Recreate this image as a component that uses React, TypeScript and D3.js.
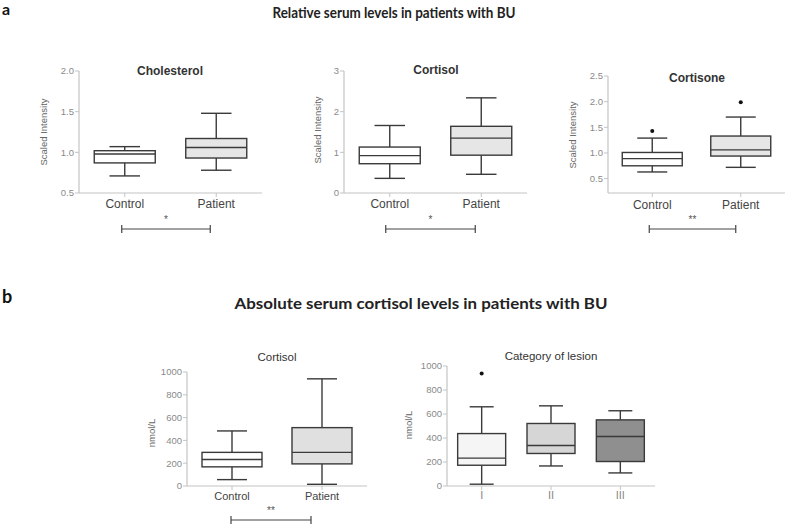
import React from "react";
import * as d3 from "d3";

// ---------- data ----------
const groupsAB = ["Control", "Patient"];
const lesionCategories = ["I", "II", "III"];

// [whiskerLow, Q1, median, Q3, whiskerHigh]
const cholesterolStats = [
  [0.71, 0.87, 0.98, 1.02, 1.07],
  [0.78, 0.93, 1.06, 1.17, 1.48],
];
const cortisolRelStats = [
  [0.36, 0.72, 0.92, 1.13, 1.66],
  [0.46, 0.93, 1.35, 1.64, 2.34],
];
const cortisoneStats = [
  [0.63, 0.75, 0.89, 1.01, 1.29],
  [0.72, 0.94, 1.06, 1.33, 1.7],
];
const cortisoneOutliers = [[1.43], [1.99]];
const cortisolAbsStats = [
  [56, 168, 233, 295, 483],
  [15, 194, 295, 512, 940],
];
const lesionStats = [
  [15, 173, 232, 437, 660],
  [167, 271, 337, 521, 668],
  [109, 204, 413, 551, 627],
];
const lesionOutliers = [[937], [], []];

const cholesterolTicks = [0.5, 1.0, 1.5, 2.0];
const cortisolRelTicks = [0, 1, 2, 3];
const cortisoneTicks = [0.5, 1.0, 1.5, 2.0, 2.5];
const nmolTicks = [0, 200, 400, 600, 800, 1000];

const fillsAB = ["#ffffff", "#e6e6e6"];
const fillsLesion = ["#f5f5f5", "#d6d6d6", "#8f8f8f"];

const FONT = "Arial, 'Liberation Sans', Helvetica, sans-serif";
const TITLE_FONT = "Lato, 'Open Sans', sans-serif";

type Layout = {
  x0: number; x1: number; yTop: number; yBottom: number; boxW: number;
  titleX: number; titleY: number; titleSize: number; yLabelX: number; yLabelY: number;
  catY: number; catSize: number; catColor: string;
};

function BoxPanel(props: {
  title: string; titleBold: boolean; categories: string[]; stats: number[][];
  outliers?: number[][]; fills: string[]; yDomain: [number, number];
  ticks: number[]; fmt: (v: number) => string; yLabel: string; layout: Layout;
  sig?: { text: string; y: number; dl: number; dr: number; textY: number };
}) {
  const { title, titleBold, categories, stats, outliers, fills, yDomain, ticks, fmt, yLabel, layout: L, sig } = props;
  const y = d3.scaleLinear().domain(yDomain).range([L.yBottom, L.yTop]);
  const x = d3.scalePoint<string>().domain(categories).range([L.x0, L.x1]).padding(0.5);
  const topTick = y(d3.max(ticks) as number);
  const axisColor = "#c4c4c4";
  const stroke = "#3a3a3a";
  return (
    <g>
      <text x={L.titleX} y={L.titleY} textAnchor="middle" fontFamily={FONT} fontSize={L.titleSize}
        fontWeight={titleBold ? "bold" : "normal"} fill="#333">{title}</text>
      <text transform={`translate(${L.yLabelX},${L.yLabelY}) rotate(-90)`} textAnchor="middle"
        fontFamily={FONT} fontSize={9.5} fill="#666">{yLabel}</text>
      {/* axes */}
      <line x1={L.x0} x2={L.x0} y1={topTick} y2={L.yBottom} stroke={axisColor} strokeWidth={1.2} />
      <line x1={L.x0} x2={L.x1} y1={L.yBottom} y2={L.yBottom} stroke={axisColor} strokeWidth={1.2} />
      {ticks.map((t) => (
        <g key={t}>
          <line x1={L.x0 - 4} x2={L.x0} y1={y(t)} y2={y(t)} stroke={axisColor} strokeWidth={1} />
          <text x={L.x0 - 5} y={y(t)} dy="0.35em" textAnchor="end" fontFamily={FONT} fontSize={9.5} fill="#8a8a8a">{fmt(t)}</text>
        </g>
      ))}
      {categories.map((c) => (
        <g key={c}>
          <line x1={x(c)} x2={x(c)} y1={L.yBottom} y2={L.yBottom + 4} stroke={axisColor} strokeWidth={1} />
          <text x={x(c)} y={L.catY} textAnchor="middle" fontFamily={FONT} fontSize={L.catSize} fill={L.catColor}>{c}</text>
        </g>
      ))}
      {/* boxes */}
      {categories.map((c, i) => {
        const [lo, q1, med, q3, hi] = stats[i];
        const cx = x(c) as number;
        const w = L.boxW;
        const cap = w / 2;
        return (
          <g key={c} stroke={stroke} strokeWidth={1.4}>
            <line x1={cx} x2={cx} y1={y(hi)} y2={y(q3)} />
            <line x1={cx} x2={cx} y1={y(q1)} y2={y(lo)} />
            <line x1={cx - cap / 2} x2={cx + cap / 2} y1={y(hi)} y2={y(hi)} />
            <line x1={cx - cap / 2} x2={cx + cap / 2} y1={y(lo)} y2={y(lo)} />
            <rect x={cx - w / 2} y={y(q3)} width={w} height={y(q1) - y(q3)} fill={fills[i]} />
            <line x1={cx - w / 2} x2={cx + w / 2} y1={y(med)} y2={y(med)} />
            {(outliers?.[i] ?? []).map((o, k) => (
              <circle key={k} cx={cx} cy={y(o)} r={2} fill="#111" stroke="none" />
            ))}
          </g>
        );
      })}
      {sig && (() => {
        const xa = (x(categories[0]) as number) + sig.dl;
        const xb = (x(categories[1]) as number) + sig.dr;
        return (
          <g stroke="#444" strokeWidth={1.2}>
            <line x1={xa} x2={xb} y1={sig.y} y2={sig.y} />
            <line x1={xa} x2={xa} y1={sig.y - 4} y2={sig.y + 4} />
            <line x1={xb} x2={xb} y1={sig.y - 4} y2={sig.y + 4} />
            <text x={(xa + xb) / 2} y={sig.textY} textAnchor="middle" fontFamily={FONT} fontSize={10} fill="#555" stroke="none">{sig.text}</text>
          </g>
        );
      })()}
    </g>
  );
}

const f1 = d3.format(".1f");
const f0 = d3.format("d");

export default function App() {
  return (
    <svg width={787} height={525} style={{ position: "absolute", left: 0, top: 0, background: "#fff" }}>
      <text x={2} y={15} fontFamily={TITLE_FONT} fontSize={16} fontWeight="bold" fill="#111">a</text>
      <text x={394} y={18} textAnchor="middle" fontFamily={TITLE_FONT} fontSize={15} fontWeight="bold" fill="#222"
        textLength={243} lengthAdjust="spacingAndGlyphs">Relative serum levels in patients with BU</text>

      <BoxPanel title="Cholesterol" titleBold categories={groupsAB} stats={cholesterolStats} fills={fillsAB}
        yDomain={[0.5, 2.0]} ticks={cholesterolTicks} fmt={f1} yLabel="Scaled Intensity"
        layout={{ x0: 79, x1: 262, yTop: 71, yBottom: 193, boxW: 61, titleX: 170, titleY: 75, titleSize: 12, yLabelX: 47, yLabelY: 132, catY: 208, catSize: 12, catColor: "#444" }}
        sig={{ text: "*", y: 229, dl: -3, dr: -6, textY: 223 }} />

      <BoxPanel title="Cortisol" titleBold categories={groupsAB} stats={cortisolRelStats} fills={fillsAB}
        yDomain={[0, 3]} ticks={cortisolRelTicks} fmt={f0} yLabel="Scaled Intensity"
        layout={{ x0: 344, x1: 527, yTop: 71, yBottom: 193, boxW: 61, titleX: 436, titleY: 74, titleSize: 12, yLabelX: 321, yLabelY: 130, catY: 208, catSize: 12, catColor: "#444" }}
        sig={{ text: "*", y: 229, dl: -4, dr: -6, textY: 223 }} />

      <BoxPanel title="Cortisone" titleBold categories={groupsAB} stats={cortisoneStats} outliers={cortisoneOutliers} fills={fillsAB}
        yDomain={[0.22, 2.5]} ticks={cortisoneTicks} fmt={f1} yLabel="Scaled Intensity"
        layout={{ x0: 608, x1: 785, yTop: 76, yBottom: 193, boxW: 60, titleX: 697, titleY: 82, titleSize: 12, yLabelX: 576, yLabelY: 135, catY: 209, catSize: 12, catColor: "#444" }}
        sig={{ text: "**", y: 229, dl: -3, dr: -5, textY: 223 }} />

      <text x={2} y={303} fontFamily={TITLE_FONT} fontSize={18} fontWeight="bold" fill="#111">b</text>
      <text x={421} y={309} textAnchor="middle" fontFamily={TITLE_FONT} fontSize={16} fontWeight="bold" fill="#222"
        textLength={373} lengthAdjust="spacingAndGlyphs">Absolute serum cortisol levels in patients with BU</text>

      <BoxPanel title="Cortisol" titleBold={false} categories={groupsAB} stats={cortisolAbsStats} fills={["#ffffff", "#e0e0e0"]}
        yDomain={[0, 1000]} ticks={nmolTicks} fmt={f0} yLabel="nmol/L"
        layout={{ x0: 187, x1: 367, yTop: 372, yBottom: 486, boxW: 60, titleX: 277, titleY: 361, titleSize: 11.5, yLabelX: 155, yLabelY: 433, catY: 500, catSize: 11, catColor: "#444" }}
        sig={{ text: "**", y: 520, dl: -1, dr: -11, textY: 514 }} />

      <BoxPanel title="Category of lesion" titleBold={false} categories={lesionCategories} stats={lesionStats} outliers={lesionOutliers} fills={fillsLesion}
        yDomain={[0, 1000]} ticks={nmolTicks} fmt={f0} yLabel="nmol/L"
        layout={{ x0: 447, x1: 655, yTop: 366, yBottom: 486, boxW: 48, titleX: 551, titleY: 360, titleSize: 11.5, yLabelX: 412, yLabelY: 425, catY: 499, catSize: 11, catColor: "#888" }} />
    </svg>
  );
}
